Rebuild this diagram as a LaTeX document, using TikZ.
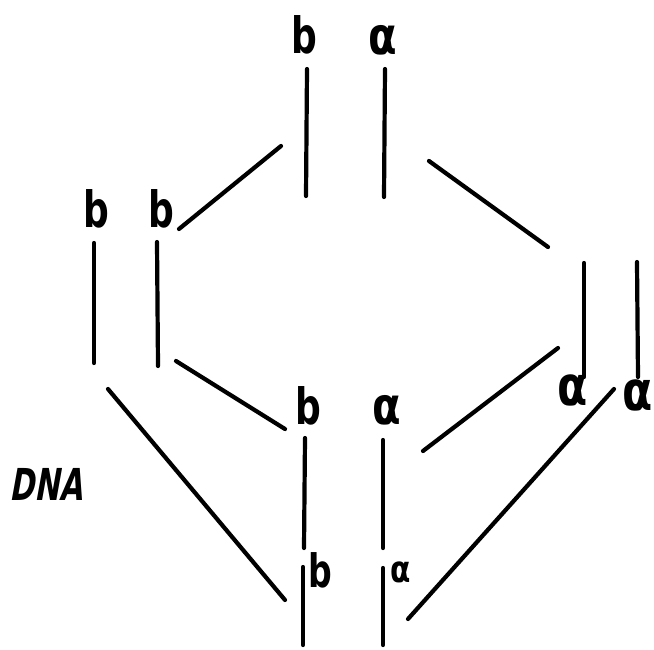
\documentclass[tikz,border=0pt]{standalone}
\usepackage{fontspec}
\newfontfamily\handfont[FakeStretch=0.72]{DejaVu Sans}
\newfontfamily\alphafont[FakeStretch=0.80]{DejaVu Sans}
\newfontfamily\handslant[FakeStretch=0.68,FakeSlant=0.18]{DejaVu Sans}
\begin{document}
\begin{tikzpicture}[x=1pt,y=-1pt,
  strand/.style={line width=4.2pt,line cap=round},
  base/.style={anchor=base,inner sep=0pt,font=\handfont\bfseries\fontsize{50}{50}\selectfont},
  basesmall/.style={anchor=base,inner sep=0pt,font=\handfont\bfseries\fontsize{46}{46}\selectfont},
  alph/.style={anchor=base,inner sep=0pt,font=\alphafont\bfseries\fontsize{52}{52}\selectfont},
  alphbig/.style={anchor=base,inner sep=0pt,font=\alphafont\bfseries\fontsize{55}{55}\selectfont},
  alphsmall/.style={anchor=base,inner sep=0pt,font=\alphafont\bfseries\fontsize{37}{37}\selectfont}]
\useasboundingbox (0,0) rectangle (654,649);

% parent duplex
\node[base] (pb) at (304,53) {b};
\node[alph] (pa) at (383,54) {α};
\draw[strand] (307,69) -- (306,196);
\draw[strand] (385,69) -- (384,197);

% branches from the parent
\draw[strand] (281,146) -- (179,229);
\draw[strand] (429,161) -- (548,247);

% left daughter pair
\node[base] (lb1) at (96,227) {b};
\node[base] (lb2) at (161,227) {b};
\draw[strand] (94,243) -- (94,363);
\draw[strand] (157,242) -- (158,366);

% right daughter pair
\draw[strand] (584,263) -- (584,377);
\draw[strand] (637,262) -- (638,377);
\node[alphbig] (ra1) at (573,405) {α};
\node[alphbig] (ra2) at (638,410) {α};

% middle hybrid
\draw[strand] (176,361) -- (285,429);
\draw[strand] (558,348) -- (423,451);
\node[base] (mb) at (308,424) {b};
\node[alph] (ma) at (387,424) {α};
\draw[strand] (305,438) -- (304,548);
\draw[strand] (383,440) -- (383,548);

% long branches to the bottom
\draw[strand] (108,389) -- (285,600);
\draw[strand] (614,389) -- (408,619);

% bottom duplex
\draw[strand] (303,567) -- (303,645);
\draw[strand] (383,568) -- (383,645);
\node[basesmall] (bb) at (320,587) {b};
\node[alphsmall] (ba) at (401,582) {α};

% side label
\node[anchor=base,inner sep=0pt,font=\handslant\bfseries\fontsize{44}{44}\selectfont] (dna) at (46,500) {DNA};
\end{tikzpicture}
\end{document}
